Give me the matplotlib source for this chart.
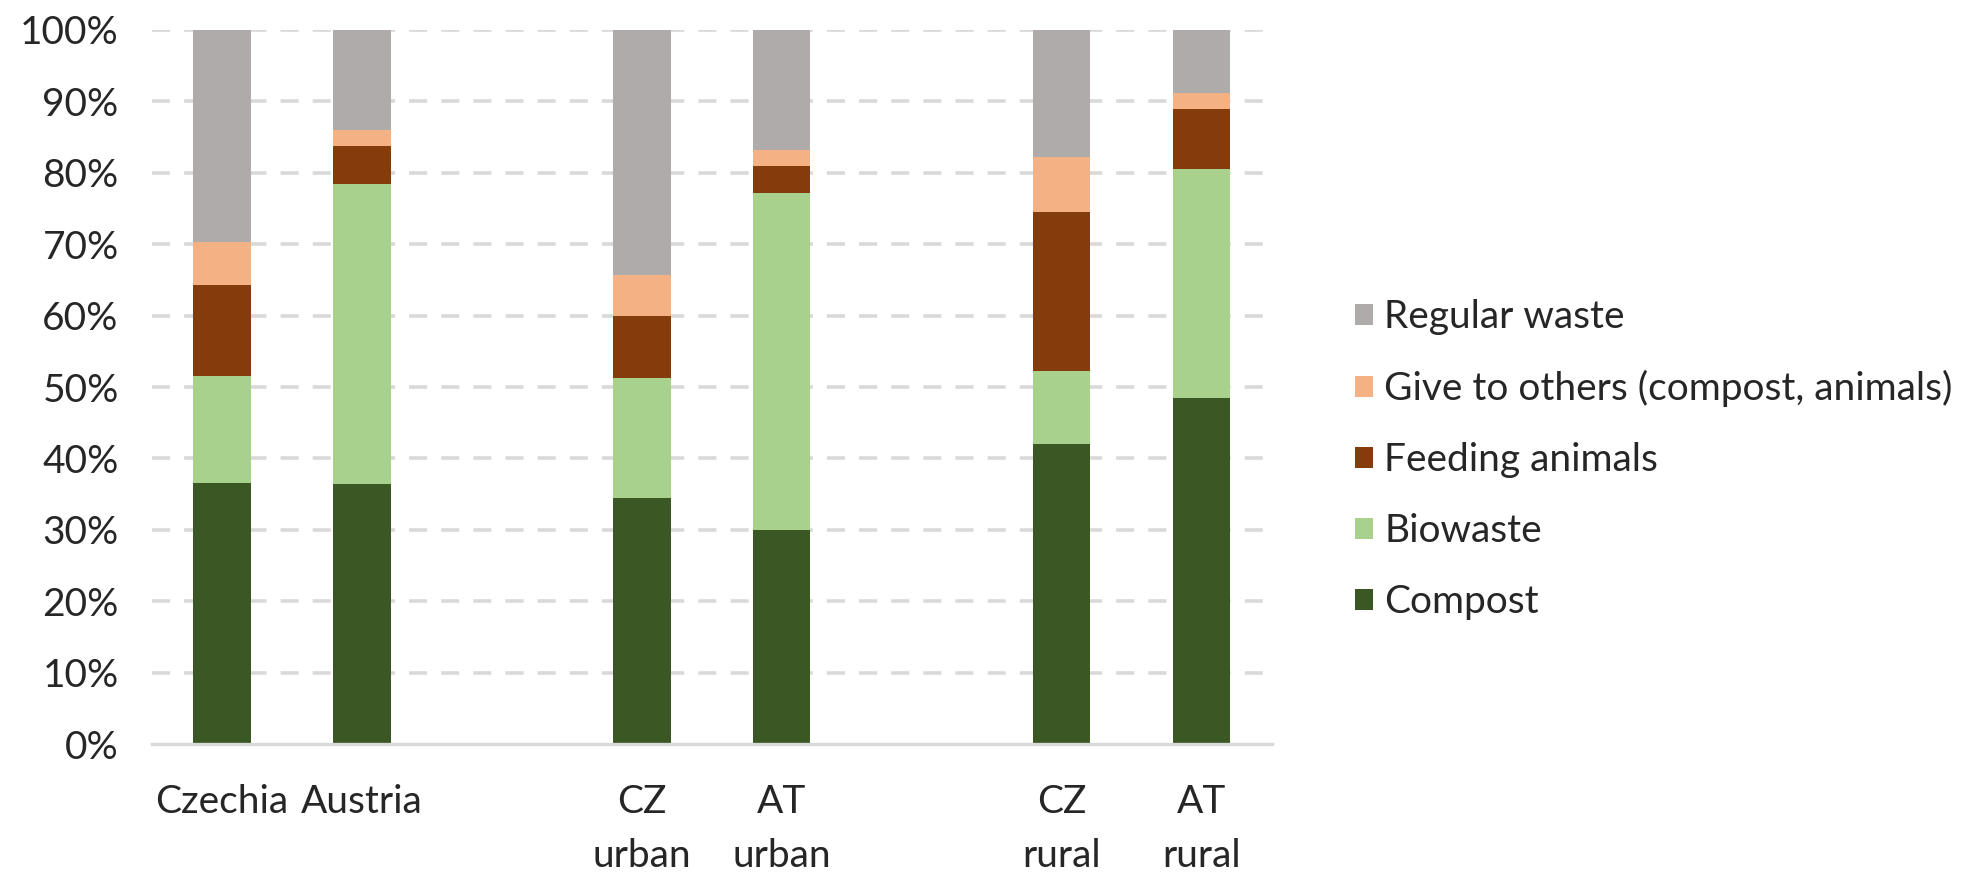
import matplotlib
matplotlib.use("Agg")
import matplotlib.pyplot as plt
from matplotlib.patches import Patch
import numpy as np

categories = ["Czechia", "Austria", "CZ\nurban", "AT\nurban", "CZ\nrural", "AT\nrural"]
positions = [0, 1, 3, 4, 6, 7]

series_names = ["Compost", "Biowaste", "Feeding animals",
                "Give to others (compost, animals)", "Regular waste"]
compost = [36.5, 36.45, 34.5, 30.0, 41.95, 48.4]
biowaste = [15.1, 41.95, 16.8, 47.1, 10.25, 32.2]
feeding = [12.65, 5.4, 8.6, 3.85, 22.3, 8.4]
give = [6.05, 2.25, 5.8, 2.2, 7.7, 2.2]
regular = [29.7, 13.95, 34.3, 16.9, 17.8, 8.8]
colors = ["#3A5724", "#A9D18E", "#843C0C", "#F4B183", "#AFABAB"]

yticks = [0, 10, 20, 30, 40, 50, 60, 70, 80, 90, 100]
ytick_labels = [f"{v}%" for v in yticks]

plt.rcParams['font.family'] = ['Lato', 'DejaVu Sans']
FS = 28

fig = plt.figure(figsize=(19.85, 8.74), dpi=100)
ax = fig.add_axes([0.0766, 0.1487, 0.5640, 0.8170])

data = [compost, biowaste, feeding, give, regular]
bottom = np.zeros(len(categories))
for vals, col, name in zip(data, colors, series_names):
    ax.bar(positions, vals, width=0.41, bottom=bottom, color=col, label=name,
           zorder=3, linewidth=0)
    bottom += np.array(vals)

ax.set_xlim(-0.5, 7.5)
ax.set_ylim(0, 100)
ax.set_yticks(yticks)
ax.set_yticklabels(ytick_labels, fontsize=FS, color="#262626")
ax.set_xticks(positions)
ax.set_xticklabels(categories, fontsize=FS, color="#262626", linespacing=1.6)
ax.tick_params(axis='both', length=0)
ax.tick_params(axis='x', pad=29)
ax.tick_params(axis='y', pad=24)

for y in yticks[1:]:
    ax.axhline(y, color="#D9D9D9", linewidth=2.6, linestyle=(0, (5.0, 3.9)), zorder=1)

for s in ["top", "right", "left"]:
    ax.spines[s].set_visible(False)
ax.spines["bottom"].set_color("#D9D9D9")
ax.spines["bottom"].set_linewidth(2.4)
ax.spines["bottom"].set_zorder(4)

handles = [Patch(facecolor=c, edgecolor='none') for c in colors][::-1]
labels = series_names[::-1]
fig.legend(handles, labels, loc="center left", bbox_to_anchor=(0.665, 0.474),
           frameon=False, fontsize=FS, handlelength=0.45, handleheight=0.45,
           handletextpad=0.3, labelspacing=0.9, labelcolor="#262626")

fig.savefig("out.png", dpi=100, facecolor="white")
